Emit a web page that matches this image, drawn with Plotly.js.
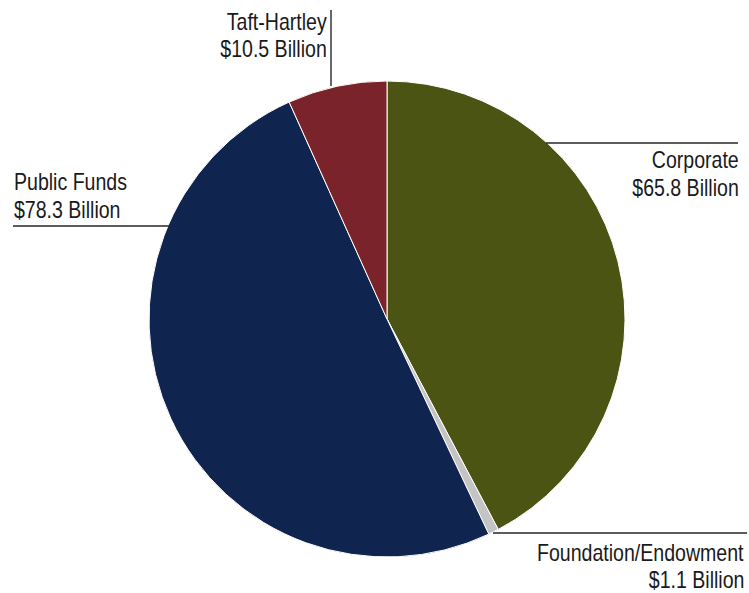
<!DOCTYPE html>
<html>
<head>
<meta charset="utf-8">
<script src="https://cdn.plot.ly/plotly-3.0.1.min.js"></script>
<style>html,body{margin:0;padding:0;background:#fff;}#chart{width:749px;height:593px;}</style>
</head>
<body>
<div id="chart"></div>
<script>
const labels = ["Corporate", "Foundation/Endowment", "Public Funds", "Taft-Hartley"];
const values = [65.8, 1.1, 78.3, 10.5];
const valueText = ["$65.8 Billion", "$1.1 Billion", "$78.3 Billion", "$10.5 Billion"];
const colors = ["#4b5412", "#c4c4c4", "#0f2550", "#7b232a"];

const W = 749, H = 593;
const px = x => x / W;
const py = y => 1 - y / H;
const FONT = "'Liberation Sans', Arial, sans-serif";
const NARROW = 0.815;

// label placement: [x, baseline of first line, anchor]
const labelPos = [
  [740, 168, "right"],
  [745, 560, "right"],
  [13, 190, "left"],
  [328, 29, "right"]
];
const LINE_GAP = 27;
// leader lines [x0,y0,x1,y1]
const leaders = [
  [546, 143, 738, 143],
  [493, 533, 747, 533],
  [13, 226, 170, 226],
  [331, 10, 331, 86]
];

const trace = {
  type: "pie",
  labels: labels,
  values: values,
  sort: false,
  direction: "clockwise",
  rotation: 0,
  textinfo: "none",
  hoverinfo: "label+value",
  marker: {colors: colors, line: {color: "#ffffff", width: 1}},
  domain: {x: [px(149), px(625)], y: [py(557), py(81)]},
  showlegend: false
};

const annotations = [];
const anchors = [];
labels.forEach((l, i) => {
  [l, valueText[i]].forEach((t, k) => {
    annotations.push({
      xref: "paper", yref: "paper",
      x: px(labelPos[i][0]), y: py(labelPos[i][1] + k * LINE_GAP - 8),
      xanchor: labelPos[i][2], yanchor: "middle",
      align: labelPos[i][2],
      text: t,
      showarrow: false,
      borderpad: 0,
      font: {family: FONT, size: 24, color: "#1a1a1a"}
    });
    anchors.push(labelPos[i][2]);
  });
});

const shapes = leaders.map(s => ({
  type: "line", xref: "paper", yref: "paper",
  x0: px(s[0]), y0: py(s[1]), x1: px(s[2]), y1: py(s[3]),
  line: {color: "#262626", width: 1.4}
}));

Plotly.newPlot("chart", [trace], {
  width: W, height: H,
  margin: {l: 0, r: 0, t: 0, b: 0},
  paper_bgcolor: "#ffffff",
  plot_bgcolor: "#ffffff",
  annotations: annotations,
  shapes: shapes
}, {displayModeBar: false, staticPlot: true}).then(gd => {
  gd.querySelectorAll(".annotation").forEach(a => {
    const idx = +a.getAttribute("data-index");
    const txt = a.querySelector(".annotation-text");
    if (!txt) return;
    txt.style.transformBox = "fill-box";
    txt.style.transformOrigin = anchors[idx] === "left" ? "left center" : "right center";
    txt.style.transform = "scaleX(" + NARROW + ")";
  });
});
</script>
</body>
</html>
